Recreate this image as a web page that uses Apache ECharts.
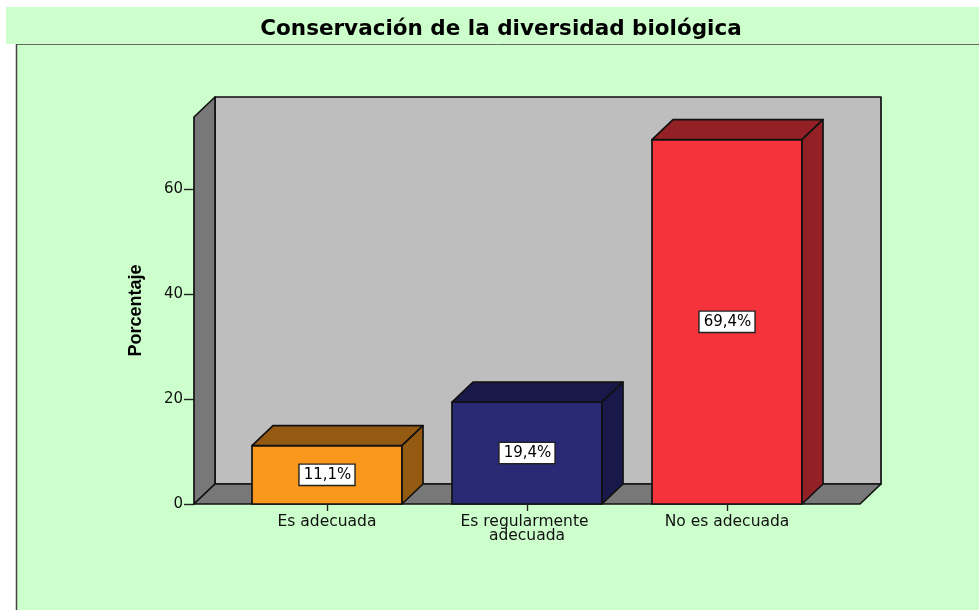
<!DOCTYPE html>
<html><head><meta charset="utf-8">
<style>html,body{margin:0;padding:0;background:#fff}#c{width:979px;height:610px}</style>
<script src="https://cdn.jsdelivr.net/npm/echarts@6/dist/echarts.min.js"></script>
</head><body><div id="c"></div>
<script>
const chartTitle = 'Conservación de la diversidad biológica';
const yAxisName = 'Porcentaje';
const categories = ['Es adecuada', 'Es regularmente adecuada', 'No es adecuada'];
const percentages = [11.1, 19.4, 69.4];
const percentLabels = ['11,1%', '19,4%', '69,4%'];
const yTicks = [0, 20, 40, 60];
const frontColors = ['#FA981D', '#282A75', '#F4333B'];
const darkColors = ['#945A11', '#18194A', '#922025'];

const FONT = '"DejaVu Sans", sans-serif';
const DX = 21, DY = -20, OVER_L = 33, OVER_R = 33;
const EDGE = { stroke: '#111', lineWidth: 1.7, lineJoin: 'round' };
const poly = (points, fill) => ({ type: 'polygon', shape: { points }, style: { fill, ...EDGE } });

function renderWalls(params) {
  const g = params.coordSys;
  const l = g.x - OVER_L, r = g.x + g.width + OVER_R, t = g.y, b = g.y + g.height;
  return { type: 'group', children: [
    poly([[l + DX, t + DY], [r + DX, t + DY], [r + DX, b + DY], [l + DX, b + DY]], '#BEBEBE'),
    poly([[l, t], [l + DX, t + DY], [l + DX, b + DY], [l, b]], '#787878'),
    poly([[l, b], [l + DX, b + DY], [r + DX, b + DY], [r, b]], '#787878')
  ]};
}
function renderBar(params, api) {
  const i = params.dataIndex;
  const top = api.coord([api.value(0), api.value(1)]);
  const base = api.coord([api.value(0), 0]);
  const w = api.size([1, 0])[0] * 0.75;
  const l = top[0] - w / 2, r = top[0] + w / 2, t = top[1], b = base[1];
  return { type: 'group', children: [
    poly([[l, b], [r, b], [r, t], [l, t]], frontColors[i]),
    poly([[l, t], [l + DX, t + DY], [r + DX, t + DY], [r, t]], darkColors[i]),
    poly([[r, t], [r + DX, t + DY], [r + DX, b + DY], [r, b]], darkColors[i]),
    { type: 'text', z2: 5, style: {
      x: top[0], y: (t + b) / 2, text: percentLabels[i], align: 'center', verticalAlign: 'middle',
      font: '15px ' + FONT, fill: '#000', backgroundColor: '#fff', borderColor: '#222', borderWidth: 1.4,
      padding: [3, 3, 2, 4]
    }}
  ]};
}

const chart = echarts.init(document.getElementById('c'), null, { renderer: 'canvas' });
chart.setOption({
  animation: false,
  backgroundColor: '#fff',
  graphic: [
    { type: 'rect', z: -10, shape: { x: 6, y: 7, width: 973, height: 37 }, style: { fill: '#CCFFCC' } },
    { type: 'rect', z: -10, shape: { x: 16, y: 44, width: 963, height: 566 }, style: { fill: '#CCFFCC' } },
    { type: 'line', z: -9, shape: { x1: 16, y1: 44.5, x2: 979, y2: 44.5 }, style: { stroke: '#666', lineWidth: 1 } },
    { type: 'line', z: -9, shape: { x1: 16.5, y1: 44, x2: 16.5, y2: 610 }, style: { stroke: '#444', lineWidth: 1.5 } }
  ],
  title: { text: chartTitle, left: 496, top: 13, textAlign: 'center',
    textStyle: { fontFamily: FONT, fontSize: 21.5, fontWeight: 'bold', color: '#000' } },
  grid: { left: 227, top: 117, width: 600, height: 387 },
  xAxis: { type: 'category', data: categories, z: 5,
    axisLine: { show: false },
    axisTick: { show: true, alignWithLabel: true, length: 7, lineStyle: { color: '#222', width: 1.4 } },
    axisLabel: { interval: 0, margin: 11, fontFamily: FONT, fontSize: 15.5, color: '#111', lineHeight: 14,
      width: 160, overflow: 'break' } },
  yAxis: { type: 'value', min: 0, max: 73.7, offset: 33, splitLine: { show: false },
    name: yAxisName, nameLocation: 'middle', nameRotate: 90, nameGap: 49,
    nameTextStyle: { fontFamily: '"Liberation Sans Narrow", "Liberation Sans", sans-serif', fontSize: 18, fontWeight: 'bold', color: '#000' },
    axisLine: { show: false },
    axisTick: { show: true, customValues: yTicks, length: 10, lineStyle: { color: '#222', width: 1.4 } },
    axisLabel: { customValues: yTicks, margin: 11, padding: [6, 0, 0, 0], fontFamily: FONT, fontSize: 15, color: '#111' } },
  series: [
    { type: 'custom', name: 'walls', z: 1, silent: true, clip: false, renderItem: renderWalls, data: [[0, 0]],
      encode: { x: 0, y: 1 } },
    { type: 'custom', name: 'Porcentaje', z: 3, clip: false, renderItem: renderBar,
      data: percentages.map((v, i) => [i, v]), encode: { x: 0, y: 1 } }
  ]
});
</script></body></html>
